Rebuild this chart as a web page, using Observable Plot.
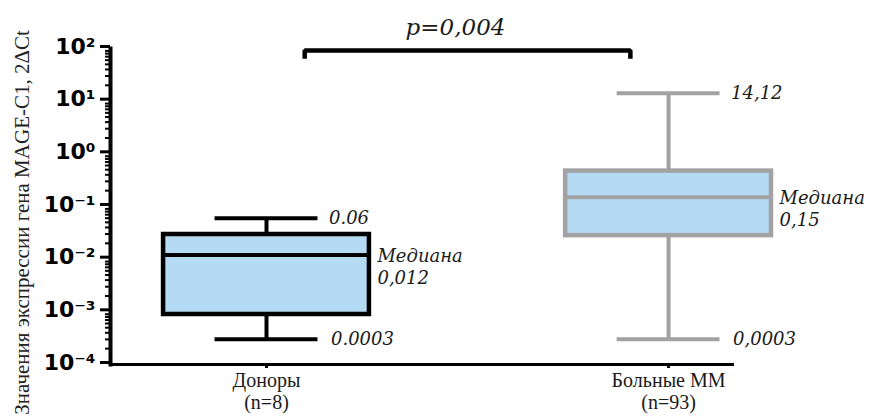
<!DOCTYPE html>
<html>
<head>
<meta charset="utf-8">
<script src="https://cdn.jsdelivr.net/npm/d3@7"></script>
<script src="https://cdn.jsdelivr.net/npm/@observablehq/plot@0.6"></script>
<style>
  body { margin: 0; background: #fff; }
  #chart svg { display: block; background: #fff; color: #000; }
</style>
</head>
<body>
<div id="chart"></div>
<script>
// Groups and the box-plot summary of MAGE-C1 expression in each
const groups = ["Доноры", "Больные ММ"];
const groupSizes = [8, 93];
const whiskerLow = [0.0003, 0.0003];
const quartile1 = [0.00089, 0.028];
const medians = [0.012, 0.15];
const quartile3 = [0.0294, 0.47];
const whiskerHigh = [0.06, 14.12];

// Value annotations written next to the whiskers and medians
const lowLabels = ["0.0003", "0,0003"];
const highLabels = ["0.06", "14,12"];
const medianLabels = ["0,012", "0,15"];
const medianWord = "Медиана";
const groupStrokes = ["#000000", "#a2a2a5"];

// Significance bracket between the two groups
const comparison = {from: 0, to: 1, label: "p=0,004"};

// Log axis decades and their labels
const yTickValues = [1e-4, 1e-3, 1e-2, 1e-1, 1e0, 1e1, 1e2];
const yTickLabels = ["10⁻⁴", "10⁻³", "10⁻²", "10⁻¹", "10⁰", "10¹", "10²"];
const yTitle = "Значения экспрессии гена MAGE-C1, 2ΔCt";

const rows = groups.map((group, i) => ({
  i, group, n: groupSizes[i],
  lo: whiskerLow[i], q1: quartile1[i], med: medians[i], q3: quartile3[i], hi: whiskerHigh[i],
  loLabel: lowLabels[i], hiLabel: highLabels[i], medLabel: medianLabels[i],
  stroke: groupStrokes[i]
}));

// minor log ticks 2..9 within every decade
const minorTicks = yTickValues.slice(0, -1).flatMap(d => d3.range(2, 10).map(k => d * k));

const boxHalf = 0.256;   // half box width, in group units
const capHalf = 0.128;   // half whisker-cap width
const bracketInset = 0.095;
const fill = "#b5daf3";
const italic = {fontFamily: "DejaVu Serif", fontStyle: "italic"};

const bracket = [
  {x: comparison.from + bracketInset, y: 70},
  {x: comparison.from + bracketInset, y: 100},
  {x: comparison.to - bracketInset, y: 100},
  {x: comparison.to - bracketInset, y: 70}
];

const chart = Plot.plot({
  width: 870,
  height: 416,
  marginTop: 48,
  marginBottom: 52,
  marginLeft: 110,
  marginRight: 138,
  x: {domain: [-0.388, 1.159], label: null},
  y: {type: "log", domain: [1e-4, 1e2], label: null},
  color: {type: "identity"},
  marks: [
    // whisker stems
    Plot.ruleX(rows, {x: "i", y1: "lo", y2: "q1", stroke: "stroke", strokeWidth: 4}),
    Plot.ruleX(rows, {x: "i", y1: "q3", y2: "hi", stroke: "stroke", strokeWidth: 4}),
    // whisker caps
    Plot.ruleY(rows, {y: "lo", x1: d => d.i - capHalf, x2: d => d.i + capHalf, stroke: "stroke", strokeWidth: 4}),
    Plot.ruleY(rows, {y: "hi", x1: d => d.i - capHalf, x2: d => d.i + capHalf, stroke: "stroke", strokeWidth: 4}),
    // interquartile boxes
    Plot.rect(rows, {x1: d => d.i - boxHalf, x2: d => d.i + boxHalf, y1: "q1", y2: "q3", fill, stroke: "stroke", strokeWidth: 4.5}),
    // medians
    Plot.ruleY(rows, {y: "med", x1: d => d.i - boxHalf, x2: d => d.i + boxHalf, stroke: "stroke", strokeWidth: 4}),

    // value annotations
    Plot.text(rows, {x: d => d.i + capHalf, y: "hi", text: "hiLabel", dx: 11, textAnchor: "start", fontSize: 18, fill: "#1a1a1a", ...italic}),
    Plot.text(rows, {x: d => d.i + capHalf, y: "lo", text: "loLabel", dx: 13, textAnchor: "start", fontSize: 18, fill: "#1a1a1a", ...italic}),
    Plot.text(rows, {x: d => d.i + boxHalf, y: "med", text: d => `${medianWord}\n${d.medLabel}`, dx: 8, dy: 11, lineHeight: 1.22, textAnchor: "start", fontSize: 18, fill: "#1a1a1a", ...italic}),

    // significance bracket
    Plot.line(bracket, {x: "x", y: "y", dy: 2, stroke: "#000", strokeWidth: 4.5, strokeLinejoin: "miter", strokeLinecap: "butt"}),
    Plot.text([comparison], {x: d => (d.from + d.to) / 2, y: () => 100, text: "label", dx: -12, dy: -21, fontSize: 23, fill: "#1a1a1a", ...italic}),

    // axes
    Plot.axisY({ticks: minorTicks, tickSize: 5, tickFormat: () => "", strokeWidth: 2, label: null}),
    Plot.axisY({
      ticks: yTickValues, tickSize: 10, tickPadding: 5, strokeWidth: 3, label: null,
      tickFormat: d => yTickLabels[yTickValues.indexOf(d)],
      fontFamily: "DejaVu Sans", fontWeight: "bold", fontSize: 22, dy: -2
    }),
    Plot.axisX({
      ticks: rows.map(d => d.i), tickSize: 4, tickPadding: 3, strokeWidth: 3, label: null,
      tickFormat: i => `${groups[i]}\n(n=${groupSizes[i]})`,
      fontFamily: "Liberation Serif", fontSize: 20, lineHeight: 1.1, fill: "#1a1a1a"
    }),
    Plot.frame({anchor: "left", strokeWidth: 4}),
    Plot.frame({anchor: "bottom", strokeWidth: 3}),

    // axis title, rotated alongside the log axis
    Plot.text([yTitle], {frameAnchor: "left", textAnchor: "middle", rotate: -90, dx: -88, dy: 16, fontFamily: "Liberation Serif", fontSize: 21, fill: "#222"})
  ]
});

document.getElementById("chart").append(chart);
</script>
</body>
</html>
